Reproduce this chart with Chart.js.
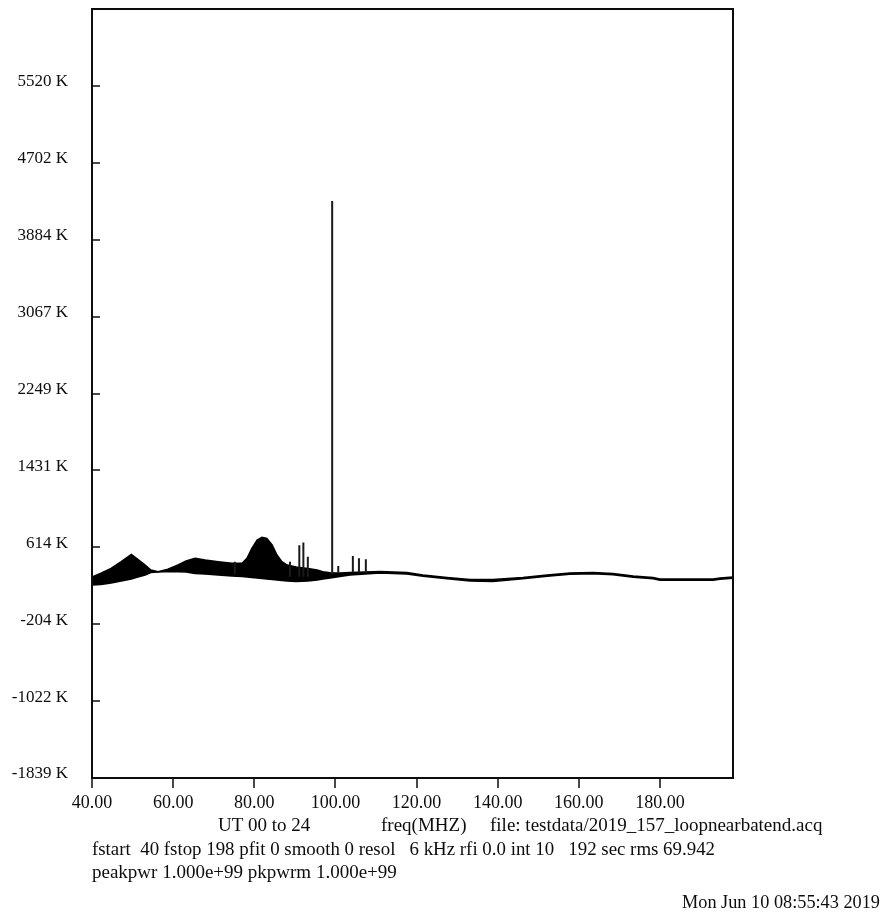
<!DOCTYPE html>
<html>
<head>
<meta charset="utf-8">
<title>Spectrum 40-198 MHz</title>
<script src="https://cdn.jsdelivr.net/npm/chart.js@4.4.1/dist/chart.umd.min.js"></script>
<style>
  html, body { margin: 0; padding: 0; background: #fff; }
  #wrap { width: 894px; height: 915px; }
</style>
</head>
<body>
<div id="wrap"><canvas id="spectrum" width="894" height="915"></canvas></div>
<script>
// spectrum envelope (min / max over the integration), MHz and K
const freqs = [40.0, 42.2, 44.7, 47.2, 49.7, 51.3, 53.1, 54.5, 56.3, 58.7,
               61.2, 63.2, 65.4, 67.9, 71.1, 74.5, 77.0, 78.2, 79.4, 80.7,
               81.9, 83.1, 84.4, 85.6, 86.8, 88.1, 90.3, 93.2, 95.5, 96.9,
               98.7, 101.1, 103.6, 107.3, 111.0, 117.6, 121.6, 127.5, 133.2, 138.8,
               146.2, 152.2, 157.8, 163.5, 168.4, 173.4, 178.3, 180.0, 193.1, 194.8,
               198.0];
const upperK = [299, 338, 391, 461, 538, 487, 426, 373, 355, 381,
                426, 469, 497, 479, 461, 444, 444, 497, 604, 692,
                721, 710, 639, 533, 461, 426, 405, 389, 373, 355,
                344, 341, 347, 352, 357, 347, 320, 293, 272, 272,
                293, 320, 341, 347, 336, 309, 293, 277, 277, 288,
                299];
const lowerK = [214, 219, 235, 256, 277, 299, 320, 347, 352, 357,
                354, 352, 336, 331, 320, 309, 304, 299, 293, 288,
                283, 277, 272, 267, 261, 256, 251, 256, 267, 277,
                288, 304, 320, 331, 341, 331, 306, 280, 255, 250,
                280, 306, 327, 333, 322, 296, 280, 265, 265, 275,
                286];

// narrow interference lines
const spikeFreqs = [75.2, 88.8, 91.1, 92.1, 93.2, 99.2, 100.7, 104.3, 105.8, 107.5];
const spikeTops  = [461, 461, 635, 665, 515, 4297, 416, 522, 497, 487];
const spikeBases = [330, 300, 300, 300, 300, 330, 345, 345, 345, 345];

const xTickValues = [40, 60, 80, 100, 120, 140, 160, 180];
const yTickLabels = ['-1839 K', '-1022 K', '-204 K', '614 K', '1431 K',
                     '2249 K', '3067 K', '3884 K', '4702 K', '5520 K'];
const yMin = -1839;
const yMax = 6339;

const footerLines = [
  'UT 00 to 24',
  'freq(MHZ)',
  'file: testdata/2019_157_loopnearbatend.acq',
  'fstart  40 fstop 198 pfit 0 smooth 0 resol   6 kHz rfi 0.0 int 10   192 sec rms 69.942',
  'peakpwr 1.000e+99 pkpwrm 1.000e+99',
  'Mon Jun 10 08:55:43 2019'
];

const FONT = '"Liberation Serif", "Times New Roman", serif';
const INK = '#0d0d0d';

const upper = freqs.map((f, i) => ({ x: f, y: upperK[i] }));
const lower = freqs.map((f, i) => ({ x: f, y: lowerK[i] }));
const spikes = spikeFreqs.flatMap((f, i) => [
  { x: f, y: spikeBases[i] }, { x: f, y: spikeTops[i] }, { x: f, y: null }
]);

// frame, tick marks and the text block under the plot
const framePlugin = {
  id: 'frame',
  afterDraw(chart) {
    const { ctx, chartArea: a, scales: { x, y } } = chart;
    ctx.save();
    ctx.strokeStyle = INK;
    ctx.lineWidth = 2;
    ctx.strokeRect(a.left, a.top, a.right - a.left, a.bottom - a.top);

    ctx.lineWidth = 1.5;
    ctx.beginPath();
    y.ticks.forEach(t => {
      const py = Math.round(y.getPixelForValue(t.value));
      ctx.moveTo(a.left, py);
      ctx.lineTo(a.left + 8, py);
    });
    x.ticks.forEach(t => {
      const px = Math.round(x.getPixelForValue(t.value));
      ctx.moveTo(px, a.bottom);
      ctx.lineTo(px, a.bottom + 10);
    });
    ctx.stroke();

    ctx.fillStyle = INK;
    ctx.font = '19px ' + FONT;
    ctx.textBaseline = 'alphabetic';
    ctx.textAlign = 'left';
    ctx.fillText(footerLines[0], 218, 831);
    ctx.fillText(footerLines[1], 381, 831);
    ctx.fillText(footerLines[2], 490, 831);
    ctx.fillText(footerLines[3], 92, 855, 623);
    ctx.fillText(footerLines[4], 92, 878);
    ctx.textAlign = 'right';
    ctx.fillText(footerLines[5], 880, 908, 198);
    ctx.restore();
  }
};

const chart = new Chart(document.getElementById('spectrum'), {
  type: 'line',
  data: {
    datasets: [
      {
        data: spikes,
        borderColor: '#1a1a1a',
        borderWidth: 2,
        pointRadius: 0,
        spanGaps: false,
        fill: false
      },
      {
        data: upper,
        borderColor: '#000',
        backgroundColor: '#000',
        borderWidth: 1.5,
        pointRadius: 0,
        tension: 0,
        fill: '+1'
      },
      {
        data: lower,
        borderColor: '#000',
        borderWidth: 1.5,
        pointRadius: 0,
        tension: 0,
        fill: false
      }
    ]
  },
  options: {
    responsive: false,
    devicePixelRatio: 1,
    animation: false,
    layout: { padding: { left: 0, top: 9, right: 161, bottom: 107 } },
    plugins: {
      legend: { display: false },
      tooltip: { enabled: false }
    },
    scales: {
      x: {
        type: 'linear',
        min: 40,
        max: 198,
        afterBuildTicks: s => { s.ticks = xTickValues.map(v => ({ value: v })); },
        afterFit: s => {
          s.height = 30;
          s.paddingLeft = 0;
          s.paddingRight = 0;
        },
        grid: { display: false, drawTicks: false },
        border: { display: false },
        ticks: {
          padding: 14,
          color: INK,
          font: { family: FONT, size: 18 },
          maxRotation: 0,
          autoSkip: false,
          callback: v => v.toFixed(2)
        }
      },
      y: {
        type: 'linear',
        min: yMin,
        max: yMax,
        afterBuildTicks: s => {
          const step = (yMax - yMin) / 10;
          s.ticks = yTickLabels.map((_, i) => ({ value: yMin + i * step }));
        },
        afterFit: s => {
          s.width = 92;
          s.paddingTop = 0;
          s.paddingBottom = 0;
        },
        grid: { display: false, drawTicks: false },
        border: { display: false },
        ticks: {
          padding: 24,
          labelOffset: -4,
          color: INK,
          font: { family: FONT, size: 17 },
          autoSkip: false,
          callback: (v, i) => yTickLabels[i]
        }
      }
    }
  },
  plugins: [framePlugin]
});
</script>
</body>
</html>
